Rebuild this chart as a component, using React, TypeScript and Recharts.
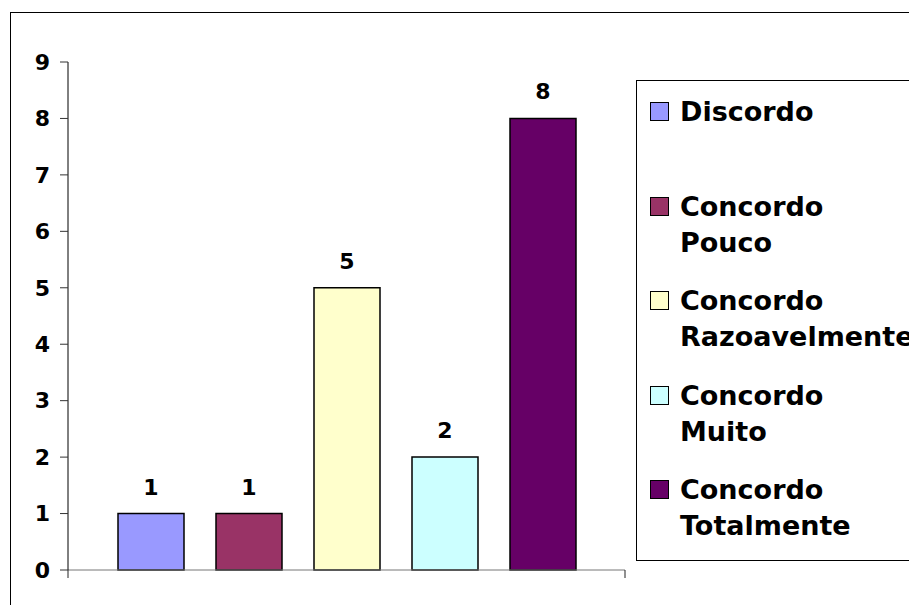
import React from "react";
import { BarChart, Bar, XAxis, YAxis, LabelList, Legend } from "recharts";

const categories = ["Respostas"];
const seriesNames = [
  "Discordo",
  "Concordo Pouco",
  "Concordo Razoavelmente",
  "Concordo Muito",
  "Concordo Totalmente",
];
const seriesValues = [1, 1, 5, 2, 8];
const seriesColors = ["#9999FF", "#993366", "#FFFFCC", "#CCFFFF", "#660066"];
const yTicks = [0, 1, 2, 3, 4, 5, 6, 7, 8, 9];

const data = categories.map((c) => {
  const row: Record<string, any> = { category: c };
  seriesNames.forEach((n, i) => {
    row[n] = seriesValues[i];
  });
  return row;
});

const FONT = "'DejaVu Sans', 'Liberation Sans', Arial, sans-serif";

const renderLegend = (props: any) => {
  const payload = [...(props.payload || [])].sort(
    (a: any, b: any) =>
      seriesNames.indexOf(String(a.value)) - seriesNames.indexOf(String(b.value))
  );
  return (
    <div
      style={{
        width: "100%",
        height: "100%",
        border: "1px solid #000",
        boxSizing: "border-box",
        paddingTop: 13,
        paddingLeft: 13,
        background: "#fff",
      }}
    >
      {payload.map((entry: any, idx: number) => {
        const name = String(entry.value);
        const ci = seriesNames.indexOf(name);
        const color = ci >= 0 ? seriesColors[ci] : entry.color;
        return (
          <div key={idx} style={{ display: "flex", height: 94.5 }}>
            <div
              style={{
                width: 19,
                height: 19,
                boxSizing: "border-box",
                background: color,
                border: "1.5px solid #000",
                marginTop: 8,
                marginRight: 11,
                flex: "none",
              }}
            />
            <div
              style={{
                fontFamily: FONT,
                fontWeight: "bold",
                fontSize: 27,
                lineHeight: "36px",
                whiteSpace: "nowrap",
                color: "#000",
              }}
            >
              {name.split(" ").map((w, j) => (
                <div key={j}>{w}</div>
              ))}
            </div>
          </div>
        );
      })}
    </div>
  );
};

const EdgeTicks = (props: any) => {
  const { x, y, payload } = props;
  const half = payload && payload.offset ? payload.offset : 0;
  return (
    <g>
      <line x1={x - half} y1={y} x2={x - half} y2={y + 8} stroke="#222" strokeWidth={1} />
      <line x1={x + half} y1={y} x2={x + half} y2={y + 8} stroke="#222" strokeWidth={1} />
    </g>
  );
};

export default function App() {
  return (
    <div
      style={{
        position: "fixed",
        left: 0,
        top: 0,
        width: 909,
        height: 605,
        overflow: "hidden",
        background: "#fff",
        fontFamily: FONT,
      }}
    >
      <div
        style={{
          position: "absolute",
          left: 10,
          top: 12,
          width: 1000,
          height: 1000,
          border: "1px solid #000",
        }}
      />
      <div style={{ position: "absolute", left: 0, top: 0 }}>
        <BarChart
          width={909}
          height={605}
          data={data}
          margin={{ top: 62, right: 284, bottom: 0, left: 0 }}
          barGap={32}
          barSize={66}
        >
          <XAxis
            dataKey="category"
            height={35}
            tickSize={0}
            tickMargin={0}
            tickLine={false}
            axisLine={{ stroke: "#777", strokeWidth: 1 }}
            tick={<EdgeTicks />}
          />
          <YAxis
            width={68}
            domain={[0, 9]}
            ticks={yTicks}
            interval={0}
            tickSize={8}
            tickMargin={10}
            axisLine={{ stroke: "#000", strokeWidth: 1 }}
            tickLine={{ stroke: "#333", strokeWidth: 1 }}
            tick={{
              fill: "#000",
              fontFamily: FONT,
              fontWeight: "bold",
              fontSize: 22,
            }}
          />
          <Legend
            layout="vertical"
            align="center"
            verticalAlign="middle"
            content={renderLegend}
            wrapperStyle={{
              position: "absolute",
              left: 636,
              top: 80,
              width: 320,
              height: 481,
            }}
          />
          {seriesNames.map((n, i) => (
            <Bar
              key={n}
              dataKey={n}
              name={n}
              fill={seriesColors[i]}
              stroke="#000"
              strokeWidth={1.5}
              isAnimationActive={false}
            >
              <LabelList
                dataKey={n}
                position="top"
                offset={19}
                style={{
                  fill: "#000",
                  fontFamily: FONT,
                  fontWeight: "bold",
                  fontSize: 22,
                }}
              />
            </Bar>
          ))}
        </BarChart>
      </div>
    </div>
  );
}
